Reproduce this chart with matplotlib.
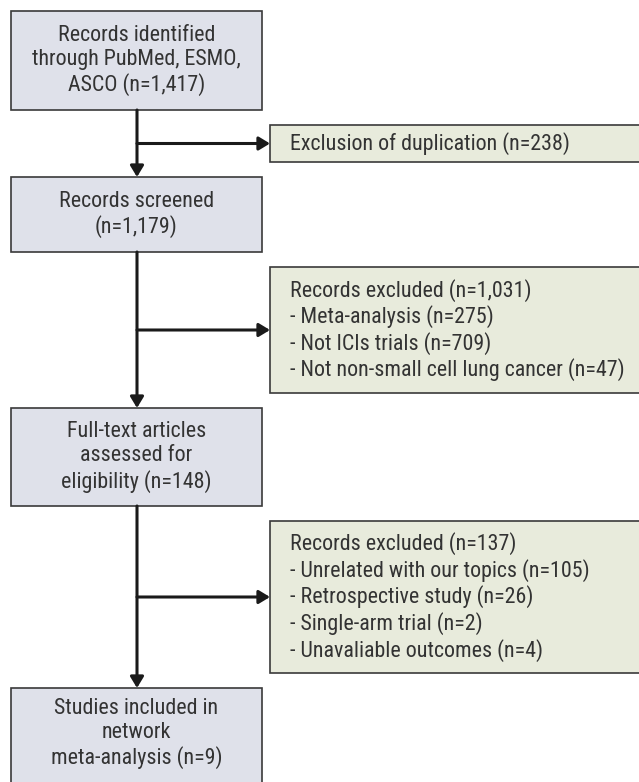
import matplotlib
matplotlib.use("Agg")
import matplotlib.pyplot as plt
from matplotlib.patches import Rectangle, FancyArrowPatch

plt.rcParams['font.family'] = ['Roboto Condensed', 'Archivo Narrow', 'DejaVu Sans']

# main flow (left column)
main_labels = [
    "Records identified\nthrough PubMed, ESMO,\nASCO (n=1,417)",
    "Records screened\n(n=1,179)",
    "Full-text articles\nassessed for\neligibility (n=148)",
    "Studies included in\nnetwork\nmeta-analysis (n=9)",
]
# exclusion boxes (right column)
excl_labels = [
    "Exclusion of duplication (n=238)",
    "Records excluded (n=1,031)\n- Meta-analysis (n=275)\n- Not ICIs trials (n=709)\n"
    "- Not non-small cell lung cancer (n=47)",
    "Records excluded (n=137)\n- Unrelated with our topics (n=105)\n- Retrospective study (n=26)\n"
    "- Single-arm trial (n=2)\n- Unavaliable outcomes (n=4)",
]

# layout in pixels (top, bottom)
main_y = [(11, 110), (177, 252), (408, 506), (688, 790)]
excl_y = [(125, 162), (267, 393), (521, 673)]
left_x0, left_x1 = 11, 262
right_x0, right_x1 = 270, 645
line_x = 137

main_fill = '#dfe1ea'
excl_fill = '#e8ebdc'
edge = '#3a3a3a'
txt_col = '#333333'
arrow_col = '#1a1a1a'

fig = plt.figure(figsize=(6.39, 7.82), dpi=100)
ax = fig.add_axes([0, 0, 1, 1])
ax.set_xlim(0, 639)
ax.set_ylim(782, 0)
ax.axis('off')

fs = 15.8
ls = 1.2
for (top, bot), lab in zip(main_y, main_labels):
    ax.add_patch(Rectangle((left_x0, top), left_x1 - left_x0, bot - top,
                           facecolor=main_fill, edgecolor=edge, lw=1.2))
    yc = (top + bot) / 2 if bot < 782 else (top + 779) / 2
    ax.text((left_x0 + left_x1) / 2, yc, lab, ha='center', va='center',
            fontsize=fs, color=txt_col, linespacing=ls)

for (top, bot), lab in zip(excl_y, excl_labels):
    ax.add_patch(Rectangle((right_x0, top), right_x1 - right_x0, bot - top,
                           facecolor=excl_fill, edgecolor=edge, lw=1.2))
    ax.text(290, (top + bot) / 2, lab, ha='left', va='center',
            fontsize=fs, color=txt_col, linespacing=ls)


def arrow(p0, p1):
    a = FancyArrowPatch(p0, p1, arrowstyle='-|>,head_length=0.33,head_width=0.2',
                        mutation_scale=20, color=arrow_col, lw=2.2,
                        shrinkA=0, shrinkB=0)
    ax.add_patch(a)


# vertical arrows between main boxes
for i in range(len(main_y) - 1):
    arrow((line_x, main_y[i][1]), (line_x, main_y[i + 1][0]))

# horizontal arrows into exclusion boxes
for top, bot in excl_y:
    yc = (top + bot) / 2
    arrow((line_x, yc), (right_x0, yc))

fig.savefig('out.png', dpi=100, facecolor='white')
